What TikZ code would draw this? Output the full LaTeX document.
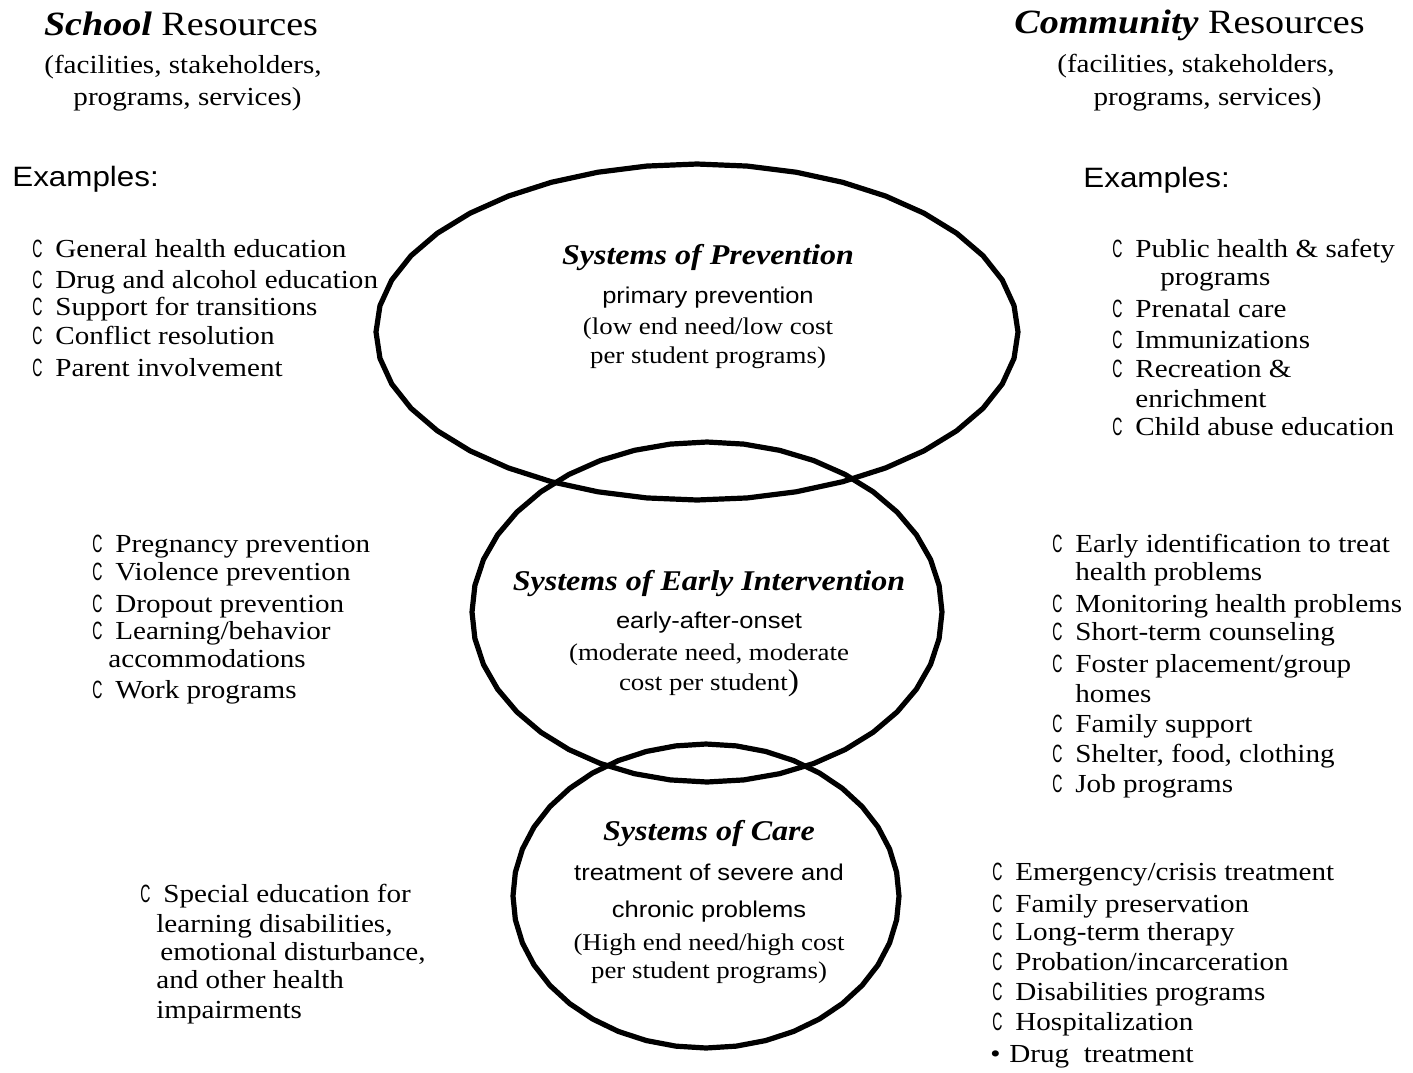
\documentclass[tikz,border=0pt]{standalone}
\usepackage{fontspec}
\setmainfont{Liberation Serif}[FakeStretch=1.12]
\setsansfont{Liberation Sans}[FakeStretch=1.12]
\newcommand\Cb{\makebox[11.5pt][l]{\sffamily\fontsize{12.5}{12}\selectfont\scalebox{0.5}[1]{C}}}
\newcommand\Db{\makebox[9.5pt][l]{•}}
\tikzset{
  li/.style={anchor=base west, inner sep=0pt, font=\fontsize{13}{15}\selectfont},
  ttl/.style={anchor=base, inner sep=0pt, font=\fontsize{14.3}{16}\selectfont\bfseries\itshape},
  sbt/.style={anchor=base, inner sep=0pt, font=\sffamily\fontsize{11.4}{13}\selectfont},
  ptx/.style={anchor=base, inner sep=0pt, font=\fontsize{12}{14}\selectfont},
  hdr/.style={anchor=base, inner sep=0pt, font=\fontsize{17}{20}\selectfont},
  hsub/.style={anchor=base, inner sep=0pt, font=\fontsize{13}{15}\selectfont},
  exs/.style={anchor=base west, inner sep=0pt, font=\sffamily\fontsize{14}{16}\selectfont},
  ring/.style={line width=2.6pt, line join=round},
}
\begin{document}
\begin{tikzpicture}[x=0.5pt,y=-0.5pt]
\useasboundingbox (0,0) rectangle (1413,1072);

% ellipses
\draw[ring] plot[domain=0:360, samples=41] ({697+321*cos(\x)},{332+168*sin(\x)}) -- cycle;
\draw[ring] plot[domain=0:360, samples=41] ({707+235*cos(\x)},{612+170*sin(\x)}) -- cycle;
\draw[ring] plot[domain=0:360, samples=41] ({706+193*cos(\x)},{896+152*sin(\x)}) -- cycle;

% headers
\node[hdr] (hl1) at (181,35) {\textbf{\textit{School}} Resources};
\node[hsub] (hl2) at (183,73) {(facilities, stakeholders,};
\node[hsub] (hl3) at (187.5,105) {programs, services)};
\node[hdr] (hr1) at (1189.5,33) {\textbf{\textit{Community}} Resources};
\node[hsub] (hr2) at (1196,72) {(facilities, stakeholders,};
\node[hsub] (hr3) at (1207.5,105) {programs, services)};
\node[exs] (exl) at (12,186) {Examples:};
\node[exs] (exr) at (1083,187) {Examples:};

% ellipse texts
\node[ttl] (p1) at (708,264) {Systems of Prevention};
\node[sbt] (p2) at (708,303) {primary prevention};
\node[ptx] (p3) at (708,334) {(low end need/low cost};
\node[ptx] (p4) at (708,363) {per student programs)};

\node[ttl] (e1) at (709,590) {Systems of Early Intervention};
\node[sbt] (e2) at (709,628) {early-after-onset};
\node[ptx] (e3) at (709,660) {(moderate need, moderate};
\node[ptx] (e4) at (709,690) {cost per student{\fontsize{15}{15}\selectfont)}};

\node[ttl] (c1) at (709,840) {Systems of Care};
\node[sbt] (c2) at (709,880) {treatment of severe and};
\node[sbt] (c3) at (709,917) {chronic problems};
\node[ptx] (c4) at (709,950) {(High end need/high cost};
\node[ptx] (c5) at (709,978) {per student programs)};

% left lists
\node[li] (la1) at (32,257) {\Cb General health education};
\node[li] (la2) at (32,288) {\Cb Drug and alcohol education};
\node[li] (la3) at (32,315) {\Cb Support for transitions};
\node[li] (la4) at (32,344) {\Cb Conflict resolution};
\node[li] (la5) at (32,376) {\Cb Parent involvement};

\node[li] (lb1) at (92,552) {\Cb Pregnancy prevention};
\node[li] (lb2) at (92,580) {\Cb Violence prevention};
\node[li] (lb3) at (92,612) {\Cb Dropout prevention};
\node[li] (lb4) at (92,639) {\Cb Learning/behavior};
\node[li] (lb5) at (108,667) {accommodations};
\node[li] (lb6) at (92,698) {\Cb Work programs};

\node[li] (lc1) at (140,902) {\Cb Special education for};
\node[li] (lc2) at (156,932) {learning disabilities,};
\node[li] (lc3) at (160,960) {emotional disturbance,};
\node[li] (lc4) at (156,988) {and other health};
\node[li] (lc5) at (156,1018) {impairments};

% right lists
\node[li] (ra1) at (1112,257) {\Cb Public health \& safety};
\node[li] (ra2) at (1160,285) {programs};
\node[li] (ra3) at (1112,317) {\Cb Prenatal care};
\node[li] (ra4) at (1112,348) {\Cb Immunizations};
\node[li] (ra5) at (1112,377) {\Cb Recreation \&};
\node[li] (ra6) at (1135,407) {enrichment};
\node[li] (ra7) at (1112,435) {\Cb Child abuse education};

\node[li] (rb1) at (1052,552) {\Cb Early identification to treat};
\node[li] (rb2) at (1075,580) {health problems};
\node[li] (rb3) at (1052,612) {\Cb Monitoring health problems};
\node[li] (rb4) at (1052,640) {\Cb Short-term counseling};
\node[li] (rb5) at (1052,672) {\Cb Foster placement/group};
\node[li] (rb6) at (1075,702) {homes};
\node[li] (rb7) at (1052,732) {\Cb Family support};
\node[li] (rb8) at (1052,762) {\Cb Shelter, food, clothing};
\node[li] (rb9) at (1052,792) {\Cb Job programs};

\node[li] (rc1) at (992,880) {\Cb Emergency/crisis treatment};
\node[li] (rc2) at (992,912) {\Cb Family preservation};
\node[li] (rc3) at (992,940) {\Cb Long-term therapy};
\node[li] (rc4) at (992,970) {\Cb Probation/incarceration};
\node[li] (rc5) at (992,1000) {\Cb Disabilities programs};
\node[li] (rc6) at (992,1030) {\Cb Hospitalization};
\node[li] (rc7) at (990,1062) {\Db Drug~ treatment};
\end{tikzpicture}
\end{document}
